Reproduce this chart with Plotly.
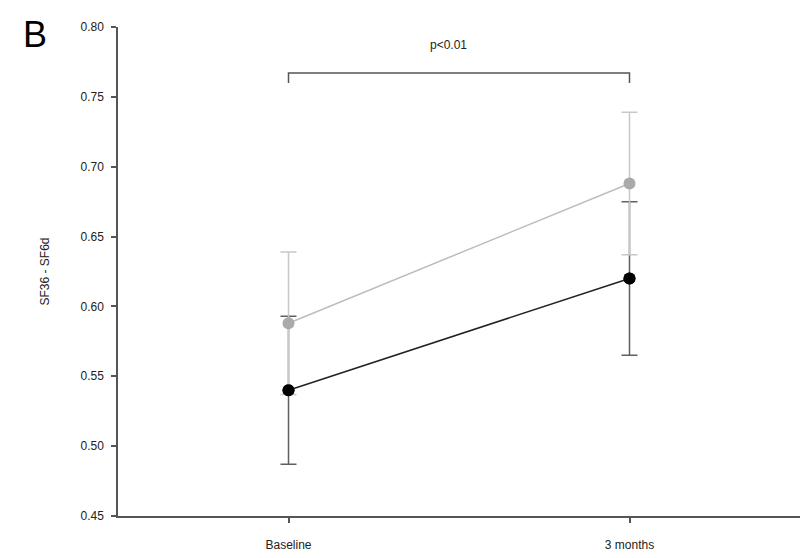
import plotly.graph_objects as go

categories = ["Baseline", "3 months"]
gray_mean = [0.588, 0.688]
gray_err = [0.051, 0.051]
black_mean = [0.540, 0.620]
black_err = [0.053, 0.055]
y_ticks = [0.45, 0.50, 0.55, 0.60, 0.65, 0.70, 0.75, 0.80]
bracket_top = 0.767
bracket_bottom = 0.760
p_text = "p<0.01"
p_text_y = 0.787

xs = list(range(len(categories)))
font = "Liberation Sans, Arial, sans-serif"

fig = go.Figure()
fig.add_trace(go.Scatter(
    x=xs, y=black_mean, mode="lines+markers",
    line=dict(color="#222222", width=1.5),
    marker=dict(color="#000000", size=12),
    error_y=dict(type="data", array=black_err, color="#606060", thickness=1.5, width=8),
    showlegend=False, hoverinfo="skip"))
fig.add_trace(go.Scatter(
    x=xs, y=gray_mean, mode="lines+markers",
    line=dict(color="#bdbdbd", width=1.5),
    marker=dict(color="#aaaaaa", size=12),
    error_y=dict(type="data", array=gray_err, color="#c8c8c8", thickness=1.5, width=8),
    showlegend=False, hoverinfo="skip"))
# black markers on top
fig.add_trace(go.Scatter(
    x=xs, y=black_mean, mode="markers",
    marker=dict(color="#000000", size=12),
    showlegend=False, hoverinfo="skip"))
# significance bracket
fig.add_trace(go.Scatter(
    x=[xs[0], xs[0], xs[1], xs[1]],
    y=[bracket_bottom, bracket_top, bracket_top, bracket_bottom],
    mode="lines", line=dict(color="#555555", width=1.5),
    showlegend=False, hoverinfo="skip"))

fig.add_annotation(x=0.47, y=p_text_y, text=p_text, showarrow=False,
                   font=dict(family=font, size=12, color="#222222"))
fig.add_annotation(xref="paper", yref="paper", x=-0.142, y=1.03,
                   xanchor="left", yanchor="top", text="B", showarrow=False,
                   font=dict(family=font, size=36, color="#000000"))

fig.update_layout(
    width=810, height=558,
    margin=dict(l=110, r=18, t=12, b=50),
    paper_bgcolor="white", plot_bgcolor="white",
    font=dict(family=font, size=12, color="#222222"),
)
fig.update_xaxes(
    range=[-0.5, 1.5], tickvals=xs, ticktext=categories,
    showline=True, linecolor="#555555", linewidth=1.5,
    ticks="outside", ticklen=5, tickcolor="#555555", tickwidth=1.5,
    showgrid=False, zeroline=False, ticklabelstandoff=12,
    tickfont=dict(size=12, family=font))
fig.update_yaxes(
    range=[0.45, 0.80], tickvals=y_ticks, tickformat=".2f",
    showline=True, linecolor="#555555", linewidth=1.5,
    ticks="outside", ticklen=5, tickcolor="#555555", tickwidth=1.5,
    showgrid=False, zeroline=False, ticklabelstandoff=5,
    title=dict(text="SF36 - SF6d", font=dict(size=12, family=font), standoff=28),
    tickfont=dict(size=12, family=font))

fig.write_html("out.html")
